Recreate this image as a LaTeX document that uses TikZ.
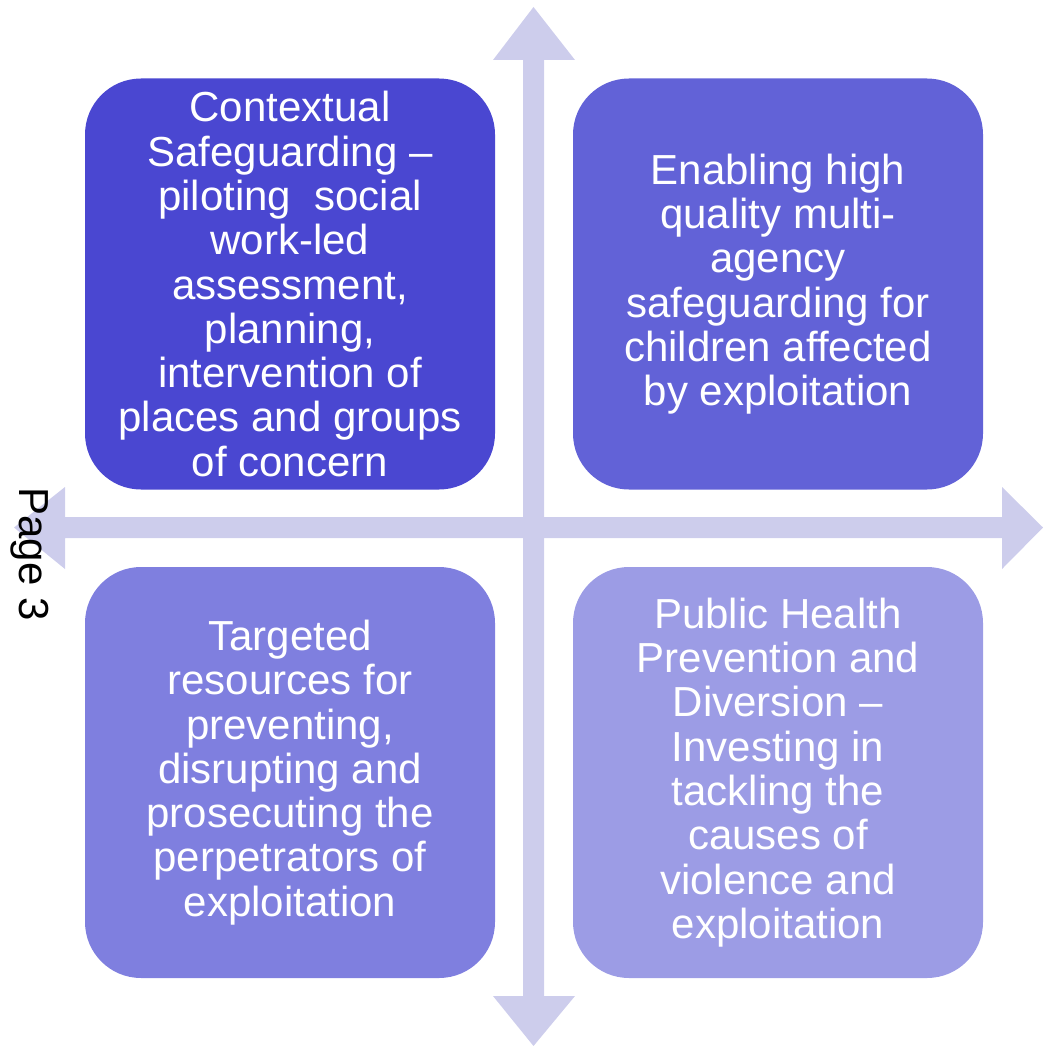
\documentclass[tikz,border=0pt]{standalone}
\usepackage{fontspec}
\setmainfont{Liberation Sans}
\definecolor{arrowc}{HTML}{CDCDEC}
\definecolor{qone}{HTML}{4A47D1}
\definecolor{qtwo}{HTML}{6262D7}
\definecolor{qthree}{HTML}{7F7FDF}
\definecolor{qfour}{HTML}{9C9CE5}
\begin{document}
\begin{tikzpicture}[x=1pt,y=-1pt,
  quad/.style={rounded corners=56pt, minimum width=410pt, minimum height=411pt,
    inner sep=0pt, text=white, align=center,
    font=\fontsize{42}{44.3}\selectfont},
  crossarrow/.style={fill=arrowc, draw=none}]
\useasboundingbox (0,0) rectangle (1043,1046);
% cross arrows
\coordinate (c) at (533.5,527.5);
\fill[crossarrow] (523,60) -- (493,60) -- (533.5,7) -- (575,60) -- (544,60)
  -- (544,996) -- (575,996) -- (533.5,1046) -- (493,996) -- (523,996) -- cycle;
\fill[crossarrow] (65,517) -- (65,487) -- (14,527.5) -- (65,569) -- (65,538)
  -- (1002,538) -- (1002,569) -- (1043,527.5) -- (1002,487) -- (1002,517) -- cycle;
% quadrants
\node[quad, fill=qone] (tl) at (290,284) {Contextual\\Safeguarding --\\piloting\ \ social\\work-led\\assessment,\\planning,\\intervention of\\places and groups\\of concern};
\node[quad, fill=qtwo] (tr) at (778,284) {Enabling high\\quality multi-\\agency\\safeguarding for\\children affected\\by exploitation};
\node[quad, fill=qthree] (bl) at (290,772.5) {Targeted\\resources for\\preventing,\\disrupting and\\prosecuting the\\perpetrators of\\exploitation};
\node[quad, fill=qfour] (br) at (778,772.5) {Public Health\\Prevention and\\Diversion --\\Investing in\\tackling the\\causes of\\violence and\\exploitation};
% page label
\node[rotate=-90, font=\fontsize{42}{44}\selectfont, inner sep=0pt] (page) at (30,554) {Page 3};
\end{tikzpicture}
\end{document}
